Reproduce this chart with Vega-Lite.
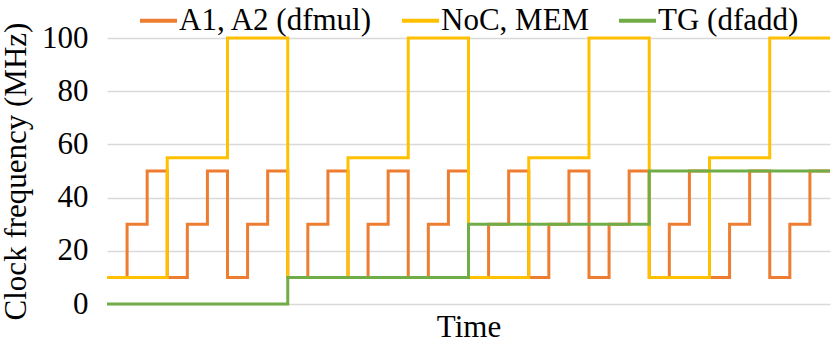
{
  "$schema": "https://vega.github.io/schema/vega-lite/v6.json",
  "width": 723,
  "height": 266,
  "autosize": {"type": "none"},
  "padding": {"left": 107, "top": 38, "right": 1, "bottom": 33},
  "background": "white",
  "config": {
    "view": {"stroke": null},
    "font": "Liberation Serif"
  },
  "data": {
    "values": [
      {"s": "A1, A2 (dfmul)", "t": 0, "f": 10},
      {"s": "A1, A2 (dfmul)", "t": 1, "f": 30},
      {"s": "A1, A2 (dfmul)", "t": 2, "f": 50},
      {"s": "A1, A2 (dfmul)", "t": 3, "f": 10},
      {"s": "A1, A2 (dfmul)", "t": 4, "f": 30},
      {"s": "A1, A2 (dfmul)", "t": 5, "f": 50},
      {"s": "A1, A2 (dfmul)", "t": 6, "f": 10},
      {"s": "A1, A2 (dfmul)", "t": 7, "f": 30},
      {"s": "A1, A2 (dfmul)", "t": 8, "f": 50},
      {"s": "A1, A2 (dfmul)", "t": 9, "f": 10},
      {"s": "A1, A2 (dfmul)", "t": 10, "f": 30},
      {"s": "A1, A2 (dfmul)", "t": 11, "f": 50},
      {"s": "A1, A2 (dfmul)", "t": 12, "f": 10},
      {"s": "A1, A2 (dfmul)", "t": 13, "f": 30},
      {"s": "A1, A2 (dfmul)", "t": 14, "f": 50},
      {"s": "A1, A2 (dfmul)", "t": 15, "f": 10},
      {"s": "A1, A2 (dfmul)", "t": 16, "f": 30},
      {"s": "A1, A2 (dfmul)", "t": 17, "f": 50},
      {"s": "A1, A2 (dfmul)", "t": 18, "f": 10},
      {"s": "A1, A2 (dfmul)", "t": 19, "f": 30},
      {"s": "A1, A2 (dfmul)", "t": 20, "f": 50},
      {"s": "A1, A2 (dfmul)", "t": 21, "f": 10},
      {"s": "A1, A2 (dfmul)", "t": 22, "f": 30},
      {"s": "A1, A2 (dfmul)", "t": 23, "f": 50},
      {"s": "A1, A2 (dfmul)", "t": 24, "f": 10},
      {"s": "A1, A2 (dfmul)", "t": 25, "f": 30},
      {"s": "A1, A2 (dfmul)", "t": 26, "f": 50},
      {"s": "A1, A2 (dfmul)", "t": 27, "f": 10},
      {"s": "A1, A2 (dfmul)", "t": 28, "f": 30},
      {"s": "A1, A2 (dfmul)", "t": 29, "f": 50},
      {"s": "A1, A2 (dfmul)", "t": 30, "f": 10},
      {"s": "A1, A2 (dfmul)", "t": 31, "f": 30},
      {"s": "A1, A2 (dfmul)", "t": 32, "f": 50},
      {"s": "A1, A2 (dfmul)", "t": 33, "f": 10},
      {"s": "A1, A2 (dfmul)", "t": 34, "f": 30},
      {"s": "A1, A2 (dfmul)", "t": 35, "f": 50},
      {"s": "A1, A2 (dfmul)", "t": 36, "f": 50},
      {"s": "NoC, MEM", "t": 0, "f": 10},
      {"s": "NoC, MEM", "t": 3, "f": 55},
      {"s": "NoC, MEM", "t": 6, "f": 100},
      {"s": "NoC, MEM", "t": 9, "f": 10},
      {"s": "NoC, MEM", "t": 12, "f": 55},
      {"s": "NoC, MEM", "t": 15, "f": 100},
      {"s": "NoC, MEM", "t": 18, "f": 10},
      {"s": "NoC, MEM", "t": 21, "f": 55},
      {"s": "NoC, MEM", "t": 24, "f": 100},
      {"s": "NoC, MEM", "t": 27, "f": 10},
      {"s": "NoC, MEM", "t": 30, "f": 55},
      {"s": "NoC, MEM", "t": 33, "f": 100},
      {"s": "NoC, MEM", "t": 36, "f": 100},
      {"s": "TG (dfadd)", "t": 0, "f": 0},
      {"s": "TG (dfadd)", "t": 9, "f": 10},
      {"s": "TG (dfadd)", "t": 18, "f": 30},
      {"s": "TG (dfadd)", "t": 27, "f": 50},
      {"s": "TG (dfadd)", "t": 36, "f": 50}
    ]
  },
  "mark": {"type": "line", "interpolate": "step-after", "strokeWidth": 3, "strokeCap": "butt"},
  "encoding": {
    "x": {
      "field": "t", "type": "quantitative",
      "scale": {"domain": [0, 36], "nice": false, "zero": false},
      "axis": {
        "title": "Time", "labels": false, "ticks": false, "domain": false, "grid": false,
        "titleFont": "Liberation Serif", "titleFontSize": 31, "titleFontWeight": "normal",
        "titleColor": "#000000", "titlePadding": 8
      }
    },
    "y": {
      "field": "f", "type": "quantitative",
      "scale": {"domain": [0, 100], "nice": false},
      "axis": {
        "title": "Clock frequency (MHz)", "values": [0, 20, 40, 60, 80, 100],
        "ticks": false, "domain": false, "grid": true, "gridColor": "#d9d9d9", "gridWidth": 1.3,
        "labelFont": "Liberation Serif", "labelFontSize": 31, "labelColor": "#000000", "labelPadding": 19,
        "titleFont": "Liberation Serif", "titleFontSize": 31, "titleFontWeight": "normal",
        "titleColor": "#000000", "titlePadding": 9
      }
    },
    "color": {
      "field": "s", "type": "nominal",
      "scale": {"domain": ["A1, A2 (dfmul)", "NoC, MEM", "TG (dfadd)"], "range": ["#ED7D31", "#FFC000", "#70AD47"]},
      "legend": {
        "title": null, "orient": "none", "direction": "horizontal", "legendX": 31, "legendY": -38,
        "symbolType": "stroke", "symbolSize": 1369, "symbolStrokeWidth": 4,
        "labelFont": "Liberation Serif", "labelFontSize": 31, "labelColor": "#000000", "labelLimit": 500,
        "labelOffset": 0, "columnPadding": 21, "padding": 0
      }
    }
  }
}
